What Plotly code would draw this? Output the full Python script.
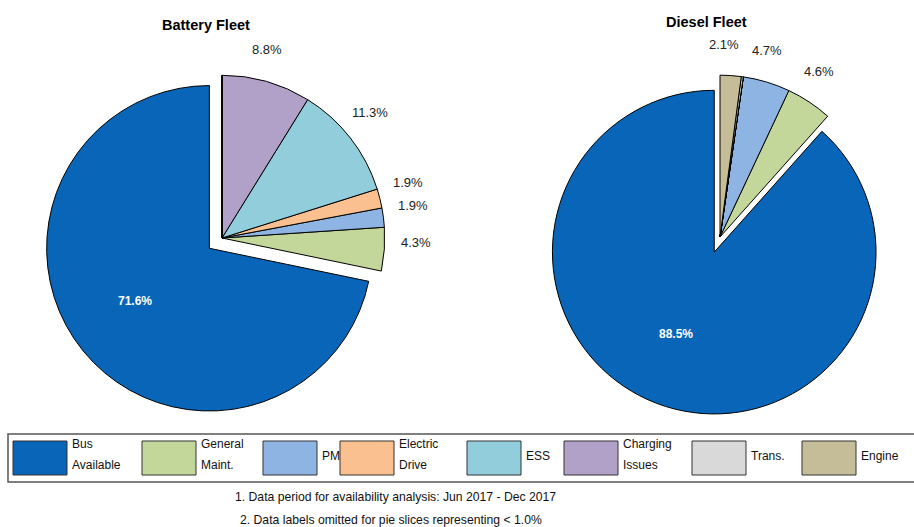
import math
import plotly.graph_objects as go

W, H = 914, 527

categories = ["Bus Available", "General Maint.", "PM", "Electric Drive", "ESS",
              "Charging Issues", "Trans.", "Engine"]
legend_lines = [["Bus", "Available"], ["General", "Maint."], ["PM"], ["Electric", "Drive"],
                ["ESS"], ["Charging", "Issues"], ["Trans."], ["Engine"]]
battery_pct = [71.6, 4.3, 1.9, 1.9, 11.3, 8.8, 0.0, 0.0]
diesel_pct = [88.5, 4.6, 4.7, 0.0, 0.0, 0.0, 0.2, 2.1]
colors = ["#0865B8", "#C4D79B", "#8DB4E2", "#FAC090", "#92CDDC", "#B1A0C7", "#D9D9D9", "#C4BD97"]
titles = ["Battery Fleet", "Diesel Fleet"]
notes = ["1. Data period for availability analysis: Jun 2017 - Dec 2017",
         "2. Data labels omitted for pie slices representing < 1.0%"]

FONT = "Liberation Sans, Arial, sans-serif"
LABEL_MIN = 1.0


def px(x):
    return x / W


def py(y):
    return 1 - y / H


def polar(cx, cy, d, ang):
    return cx + d * math.sin(math.radians(ang)), cy - d * math.cos(math.radians(ang))


fig = go.Figure()
annotations = []
shapes = []

# pie layout: (center x, center y, half size, pull)
pie_boxes = [(222, 238, 179, 0.10), (720, 237, 178, 0.10)]

for vals, (cx, cy, hs, pull) in zip([battery_pct, diesel_pct], pie_boxes):
    total = sum(vals)
    # "Bus Available" ends at 12 o'clock; the other slices run clockwise from there
    rot = 360.0 * (total - vals[0]) / total
    fig.add_trace(go.Pie(
        labels=categories,
        values=vals,
        sort=False,
        direction="counterclockwise",
        rotation=rot,
        pull=[pull] + [0] * (len(vals) - 1),
        marker=dict(colors=colors, line=dict(color="black", width=1)),
        textinfo="none",
        domain=dict(x=[px(cx - hs), px(cx + hs)], y=[py(cy + hs), py(cy - hs)]),
        showlegend=False,
        hoverinfo="label+value",
    ))
    r = hs / (1 + pull)
    # inside label of the big (pulled) slice
    bis = rot + 180.0 * vals[0] / total
    bx, by = polar(cx, cy, pull * r, bis)
    lx, ly = polar(bx, by, 0.56 * r, bis + 4.0)
    annotations.append(dict(text=f"<b>{vals[0]:.1f}%</b>", x=px(lx), y=py(ly), xref="paper",
                            yref="paper", showarrow=False, xanchor="center", yanchor="middle",
                            font=dict(size=12, color="white", family=FONT)))
    # outside-end data labels for the smaller slices (clockwise from 12 o'clock)
    start = 0.0
    for i in reversed(range(1, len(vals))):
        span = 360.0 * vals[i] / total
        mid = start + span / 2 - 2.5
        start += span
        if vals[i] < LABEL_MIN:
            continue
        lx, ly = polar(cx, cy, 1.19 * r, mid)
        annotations.append(dict(text=f"{vals[i]:.1f}%", x=px(lx), y=py(ly), xref="paper",
                                yref="paper", showarrow=False, xanchor="center",
                                yanchor="middle",
                                font=dict(size=13, color="#222222", family=FONT)))

# titles
for t, (x, y) in zip(titles, [(206, 25), (706, 22)]):
    annotations.append(dict(text="<b>" + t + "</b>", x=px(x), y=py(y), xref="paper", yref="paper",
                            showarrow=False, xanchor="center", yanchor="middle",
                            font=dict(size=14.5, color="black", family=FONT)))

# legend box
shapes.append(dict(type="rect", xref="paper", yref="paper", x0=px(8), x1=px(920),
                   y0=py(482), y1=py(434), line=dict(color="#555555", width=1.5),
                   fillcolor="white", layer="below"))

legend_x = [13, 142, 263, 340, 467, 564, 692, 802]
for lx, col, lines in zip(legend_x, colors, legend_lines):
    shapes.append(dict(type="rect", xref="paper", yref="paper", x0=px(lx), x1=px(lx + 54),
                       y0=py(475), y1=py(441), line=dict(color="#333333", width=1),
                       fillcolor=col))
    ys = [444, 465] if len(lines) == 2 else [456]
    for ln, yy in zip(lines, ys):
        annotations.append(dict(text=ln, x=px(lx + 57), y=py(yy), xref="paper", yref="paper",
                                showarrow=False, xanchor="left", yanchor="middle",
                                font=dict(size=12, color="#111111", family=FONT)))

# notes
for n, (x, y) in zip(notes, [(233, 497), (238, 520)]):
    annotations.append(dict(text=n, x=px(x), y=py(y), xref="paper", yref="paper",
                            showarrow=False, xanchor="left", yanchor="middle",
                            font=dict(size=12.2, color="#111111", family=FONT)))

fig.update_layout(
    width=W, height=H,
    margin=dict(l=0, r=0, t=0, b=0),
    paper_bgcolor="white",
    plot_bgcolor="white",
    annotations=annotations,
    shapes=shapes,
    font=dict(family=FONT),
)

fig.write_html("out.html")
